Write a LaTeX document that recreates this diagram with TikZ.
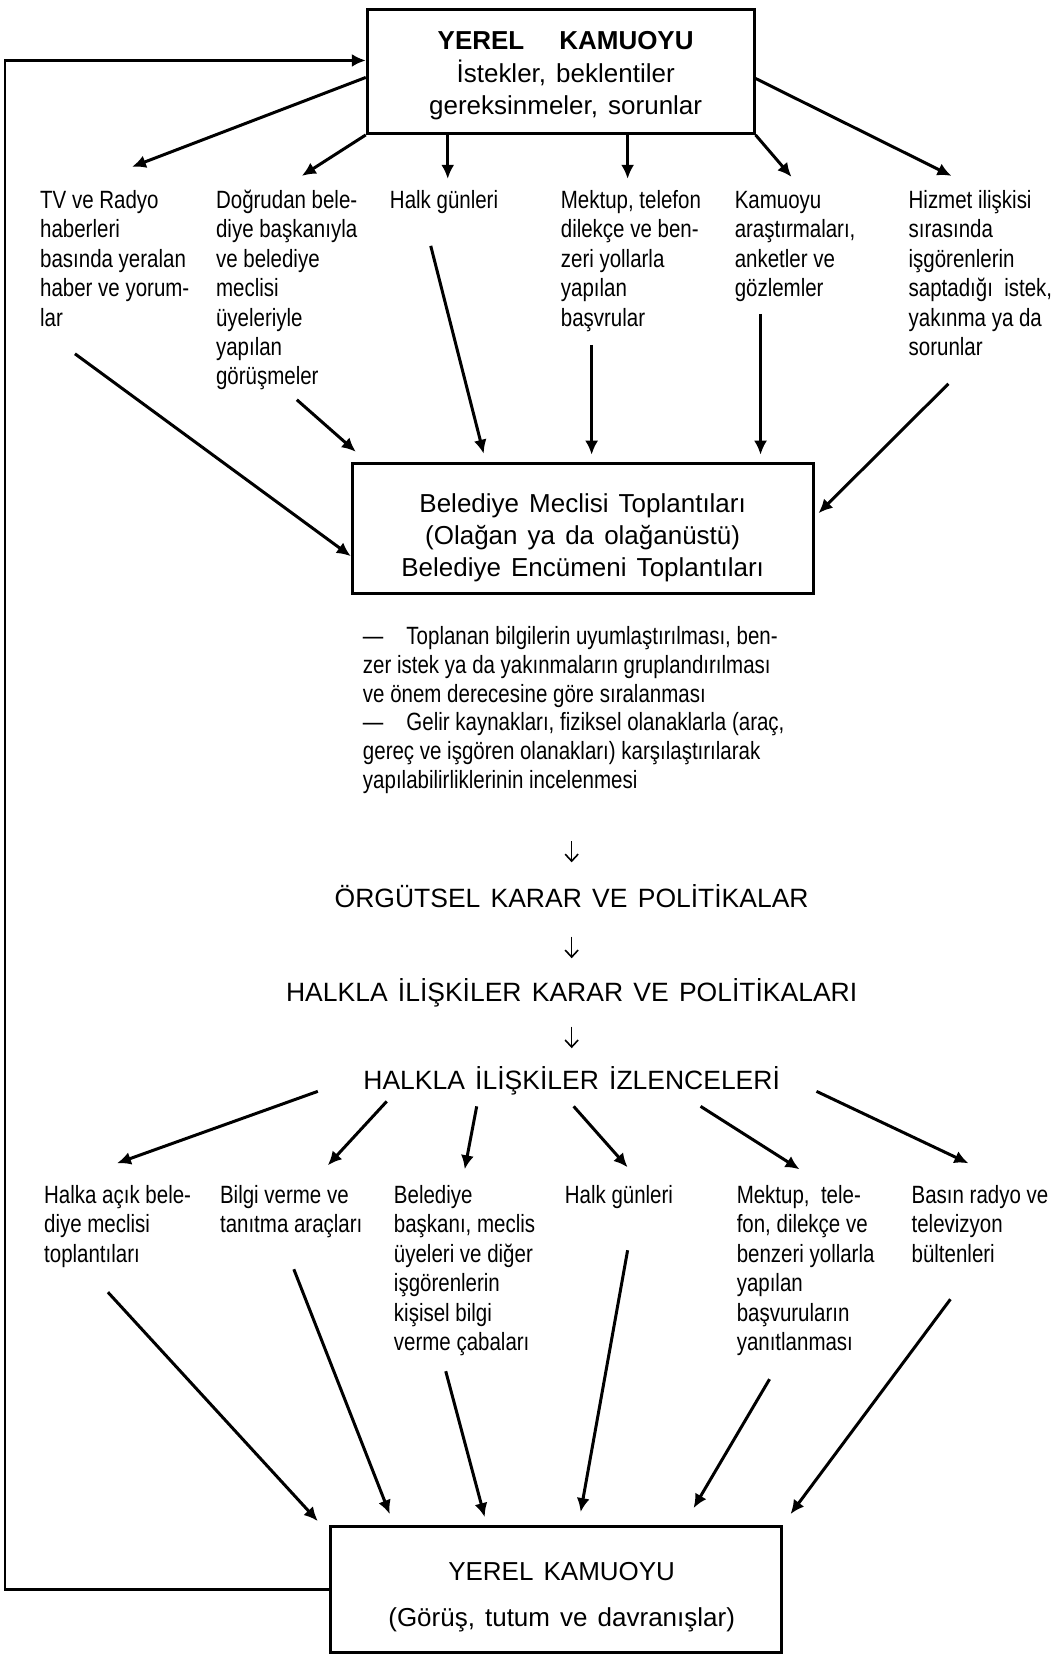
\documentclass[tikz,border=0pt]{standalone}
\usepackage{fontspec}
\usetikzlibrary{arrows.meta}
\newfontfamily\boxfont[WordSpace=1.4]{Liberation Sans}
\newfontfamily\condfont[FakeStretch=0.82]{Liberation Sans}

\begin{document}
\begin{tikzpicture}[x=1pt,y=-1pt,
  frame/.style={draw, line width=3pt, inner sep=0pt, anchor=north west},
  boxtext/.style={font=\boxfont\fontsize{26pt}{#1}\selectfont, align=center, inner sep=0pt, anchor=north},
  capsline/.style={font=\boxfont\fontsize{26.5pt}{31pt}\selectfont, inner sep=0pt, anchor=base, text height=20pt, text depth=0pt},
  item/.style={font=\condfont\fontsize{25pt}{29.5pt}\selectfont, align=left, inner sep=0pt, anchor=north west},
  notes/.style={font=\condfont\fontsize{25pt}{28.7pt}\selectfont, align=left, inner sep=0pt, anchor=north west},
  arr/.style={line width=3pt, -{Latex[length=14pt,width=13pt]}},
  thinarr/.style={line width=1.6pt, -{Straight Barb[length=7pt,width=13pt]}},
  loopline/.style={line width=2.6pt, -{Latex[length=14pt,width=13pt]}}
]
% page
\fill[white] (0,0) rectangle (1060,1654);

% ---- boxes ----
\node[frame, minimum width=387pt, minimum height=124pt] (top) at (366,8) {};
\node[boxtext=32.5pt] (toptxt) at (566,26.75)
  {\strut\textbf{YEREL\hspace{35pt}KAMUOYU}\\ İstekler, beklentiler\\ gereksinmeler, sorunlar};

\node[frame, minimum width=461pt, minimum height=130pt] (mid) at (351,462) {};
\node[boxtext=32pt] (midtxt) at (583,490)
  {\strut Belediye Meclisi Toplantıları\\ (Olağan ya da olağanüstü)\\ Belediye Encümeni Toplantıları};

\node[frame, minimum width=451pt, minimum height=126pt] (bot) at (329,1526) {};
\node[boxtext=46pt] (bottxt) at (562,1549.3)
  {\strut YEREL KAMUOYU\\ (Görüş, tutum ve davranışlar)};

% ---- upper row of sources ----
\node[item] (tv) at (40,187.35)
  {\strut TV ve Radyo\\ haberleri\\ basında yeralan\\ haber ve yorum-\\ lar};
\node[item] (dog) at (216,187.35)
  {\strut Doğrudan bele-\\ diye başkanıyla\\ ve belediye\\ meclisi\\ üyeleriyle\\ yapılan\\ görüşmeler};
\node[item] (hga) at (390,187.35) {\strut Halk günleri};
\node[item] (meka) at (561,187.35)
  {\strut Mektup, telefon\\ dilekçe ve ben-\\ zeri yollarla\\ yapılan\\ başvrular};
\node[item] (kam) at (735,187.35)
  {\strut Kamuoyu\\ araştırmaları,\\ anketler ve\\ gözlemler};
\node[item] (hiz) at (909,187.35)
  {\strut Hizmet ilişkisi\\ sırasında\\ işgörenlerin\\ saptadığı\ \ istek,\\ yakınma ya da\\ sorunlar};

% ---- notes under the meeting box ----
\node[notes] (bul) at (363,624.9)
  {\strut —\hspace{23pt}Toplanan bilgilerin uyumlaştırılması, ben-\\
   zer istek ya da yakınmaların gruplandırılması\\
   ve önem derecesine göre sıralanması\\
   —\hspace{23pt}Gelir kaynakları, fiziksel olanaklarla (araç,\\
   gereç ve işgören olanakları) karşılaştırılarak\\
   yapılabilirliklerinin incelenmesi\strut};

% ---- decision chain ----
\node[capsline] (org) at (572,908) {ÖRGÜTSEL KARAR VE POLİTİKALAR};
\node[capsline] (hkp) at (572,1002) {HALKLA İLİŞKİLER KARAR VE POLİTİKALARI};
\node[capsline] (izl) at (572,1090) {HALKLA İLİŞKİLER İZLENCELERİ};

\draw[thinarr, shorten <=44pt, shorten >=25pt] (org.north |- bul.south) -- (org.north);
\draw[thinarr, shorten <=29pt, shorten >=23pt] (org.south) -- (hkp.north);
\draw[thinarr, shorten <=25pt, shorten >=21pt] (hkp.south) -- (izl.north);

% ---- lower row of channels ----
\node[item] (hal) at (44,1183.35)
  {\strut Halka açık bele-\\ diye meclisi\\ toplantıları};
\node[item] (bil) at (220,1183.35)
  {\strut Bilgi verme ve\\ tanıtma araçları};
\node[item] (bel) at (394,1183.35)
  {\strut Belediye\\ başkanı, meclis\\ üyeleri ve diğer\\ işgörenlerin\\ kişisel bilgi\\ verme çabaları};
\node[item] (hgb) at (565,1183.35) {\strut Halk günleri};
\node[item] (mekb) at (737,1183.35)
  {\strut Mektup,\ \ tele-\\ fon, dilekçe ve\\ benzeri yollarla\\ yapılan\\ başvuruların\\ yanıtlanması};
\node[item] (bas) at (912,1183.35)
  {\strut Basın radyo ve\\ televizyon\\ bültenleri};

% ---- connector end points ----
\coordinate (a1e) at (132,167);
\coordinate (a2e) at (302,176);
\coordinate (a3e) at (448,179);
\coordinate (a4e) at (628,179);
\coordinate (a5e) at (792,177);
\coordinate (a6e) at (952,176);

\coordinate (b1s) at (75,354);
\coordinate (b2s) at (297,400);
\coordinate (b3s) at (431,246);
\coordinate (b4s) at (592,345);
\coordinate (b5s) at (761,314);
\coordinate (b6s) at (949,384);

\coordinate (c1s) at (318,1092); \coordinate (c1e) at (117,1164);
\coordinate (c2s) at (387,1102); \coordinate (c2e) at (328,1166);
\coordinate (c3s) at (477,1107); \coordinate (c3e) at (465,1170);
\coordinate (c4s) at (574,1107); \coordinate (c4e) at (628,1168);
\coordinate (c5s) at (701,1107); \coordinate (c5e) at (800,1170);
\coordinate (c6s) at (817,1092); \coordinate (c6e) at (969,1164);

\coordinate (d1s) at (108,1293);
\coordinate (d2s) at (294,1270);
\coordinate (d3s) at (446,1372);
\coordinate (d4s) at (628,1251);
\coordinate (d5s) at (770,1380);
\coordinate (d6s) at (951,1300);

% ---- public opinion fans out to the sources ----
\draw[arr] ([yshift=-6pt]top.west) -- (a1e);
\draw[arr] (top.south west) -- (a2e);
\draw[arr] (top.south -| a3e) -- (a3e);
\draw[arr] (top.south -| a4e) -- (a4e);
\draw[arr] (top.south east) -- (a5e);
\draw[arr] ([yshift=-7pt]top.east) -- (a6e);

% ---- sources feed the meetings ----
\draw[arr] (b1s) -- ([yshift=-28pt]mid.west);
\draw[arr] (b2s) -- ([xshift=5pt,yshift=10pt]mid.north west);
\draw[arr] (b3s) -- ([xshift=133pt,yshift=8pt]mid.north west);
\draw[arr, shorten >=7pt] (b4s) -- (b4s |- mid.north);
\draw[arr, shorten >=7pt] (b5s) -- (b5s |- mid.north);
\draw[arr] (b6s) -- ([xshift=4pt,yshift=15pt]mid.east);

% ---- programmes fan out to the channels ----
\draw[arr] (c1s) -- (c1e);
\draw[arr] (c2s) -- (c2e);
\draw[arr] (c3s) -- (c3e);
\draw[arr] (c4s) -- (c4e);
\draw[arr] (c5s) -- (c5e);
\draw[arr] (c6s) -- (c6e);

% ---- channels reach the public ----
\draw[arr] (d1s) -- ([xshift=-11pt,yshift=4pt]bot.north west);
\draw[arr] (d2s) -- ([xshift=61pt,yshift=11pt]bot.north west);
\draw[arr] (d3s) -- ([xshift=156pt,yshift=8pt]bot.north west);
\draw[arr] (d4s) -- ([xshift=252pt,yshift=13pt]bot.north west);
\draw[arr] (d5s) -- ([xshift=365pt,yshift=17pt]bot.north west);
\draw[arr] (d6s) -- ([xshift=8pt,yshift=11pt]bot.north east);

% ---- feedback loop ----
\draw[loopline] (bot.west) -- ++(-324,0) |- ([yshift=11pt]top.west);
\end{tikzpicture}
\end{document}
